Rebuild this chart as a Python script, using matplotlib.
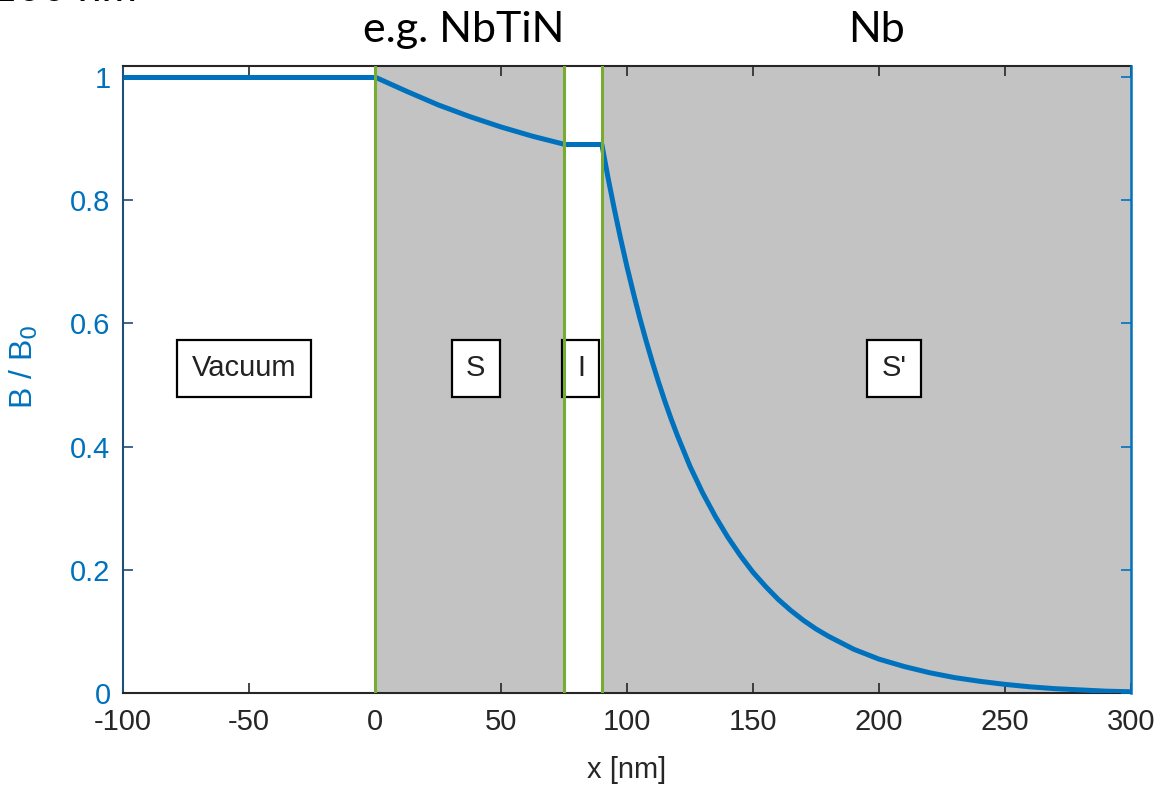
import matplotlib
matplotlib.use("Agg")
import matplotlib.pyplot as plt

# field profile, one array per region
x_vac = [-100, 0]
b_vac = [1.0, 1.0]

x_s = [0, 12.5, 25, 37.5, 50, 62.5, 75]
b_s = [1.0, 0.977, 0.955, 0.936, 0.919, 0.904, 0.891]

x_ins = [75, 90]
b_ins = [0.891, 0.891]

x_sp = [90, 92.5, 95, 97.5, 100, 102.5, 105, 107.5, 110, 112.5, 115, 117.5,
        120, 125, 130, 135, 140, 145, 150, 155, 160, 165, 170, 175, 180, 190,
        200, 210, 220, 230, 240, 250, 260, 270, 280, 290, 300]
b_sp = [0.891, 0.836, 0.785, 0.737, 0.692, 0.650, 0.610, 0.573, 0.538, 0.505,
        0.474, 0.445, 0.418, 0.368, 0.325, 0.287, 0.253, 0.223, 0.196, 0.173,
        0.152, 0.134, 0.118, 0.104, 0.092, 0.071, 0.055, 0.043, 0.033, 0.025,
        0.019, 0.014, 0.010, 0.007, 0.005, 0.003, 0.002]

# layer boundaries and labels
interfaces = [0, 75, 90]
region_names = ["Vacuum", "S", "I", "S'"]
region_x = [-52, 40, 81.7, 206]
region_y = 0.527

xticks = [-100, -50, 0, 50, 100, 150, 200, 250, 300]
yticks = [0, 0.2, 0.4, 0.6, 0.8, 1]
ytick_labels = ["0", "0.2", "0.4", "0.6", "0.8", "1"]

BLUE = "#0072BD"
GREEN = "#77AC30"
GRAY = "#c3c3c3"
DARK = "#262626"
FONT = ["Liberation Sans", "DejaVu Sans"]
TOPFONT = ["Lato", "DejaVu Sans"]
FS = 21

W, H = 1167, 786
fig = plt.figure(figsize=(W / 100, H / 100), dpi=100)
ax = fig.add_axes([123 / W, 93 / H, 1008 / W, 627 / H])

ax.axvspan(interfaces[0], interfaces[1], color=GRAY, lw=0, zorder=0)
ax.axvspan(interfaces[2], 300, color=GRAY, lw=0, zorder=0)

for xi in interfaces:
    ax.axvline(xi, color=GREEN, lw=2.2, zorder=4)

for xs, bs in [(x_vac, b_vac), (x_s, b_s), (x_ins, b_ins), (x_sp, b_sp)]:
    ax.plot(xs, bs, color=BLUE, lw=3.6, zorder=3, solid_capstyle="butt",
            solid_joinstyle="round")

for name, xr in zip(region_names, region_x):
    ax.text(xr, region_y, name, ha="center", va="center", fontsize=FS,
            family=FONT, color="#222222", zorder=3.5,
            bbox=dict(boxstyle="square,pad=0.5", fc="white", ec="black", lw=1.6))

ax.set_xlim(-100, 300)
ax.set_ylim(0, 1.018)
ax.set_xticks(xticks)
ax.set_xticklabels([str(v) for v in xticks], family=FONT, fontsize=FS, color=DARK)
ax.set_yticks(yticks)
ax.set_yticklabels(ytick_labels, family=FONT, fontsize=FS, color=BLUE)
ax.tick_params(axis="x", direction="in", length=7, width=1.2, color=DARK,
               top=True, pad=11)
ax.tick_params(axis="y", direction="in", length=7, width=1.2, color="#1f4e79",
               pad=9)

for side in ["top", "bottom"]:
    ax.spines[side].set_color(DARK)
    ax.spines[side].set_linewidth(1.5)
ax.spines["left"].set_color("#1f4e79")
ax.spines["left"].set_linewidth(1.5)
ax.spines["right"].set_visible(False)

ax2 = ax.twinx()
ax2.set_ylim(ax.get_ylim())
ax2.set_yticks(yticks)
ax2.set_yticklabels([])
ax2.tick_params(axis="y", direction="in", length=7, width=1.2, color=BLUE)
ax2.spines["right"].set_color(BLUE)
ax2.spines["right"].set_linewidth(1.8)
for side in ["top", "bottom", "left"]:
    ax2.spines[side].set_visible(False)

ax.set_xlabel("x [nm]", family=FONT, fontsize=FS, color=DARK, labelpad=14)
ax.set_ylabel("B / B$_0$", family=FONT, fontsize=FS + 2, color=BLUE,
              labelpad=18)
ax.yaxis.set_label_coords(-0.082, 0.52)

# layer material labels above the plot, plus the clipped caption at the very top
fig.text(464 / W, 1 - 42 / H, "e.g. NbTiN", ha="center", va="baseline",
         family=TOPFONT, fontsize=31, color="black")
fig.text(877 / W, 1 - 42 / H, "Nb", ha="center", va="baseline",
         family=TOPFONT, fontsize=31, color="black")
fig.text(137 / W, 1 - 1 / H, "100 nm", ha="right", va="baseline",
         family=TOPFONT, fontsize=31, color="black")

fig.savefig("out.png", dpi=100)
